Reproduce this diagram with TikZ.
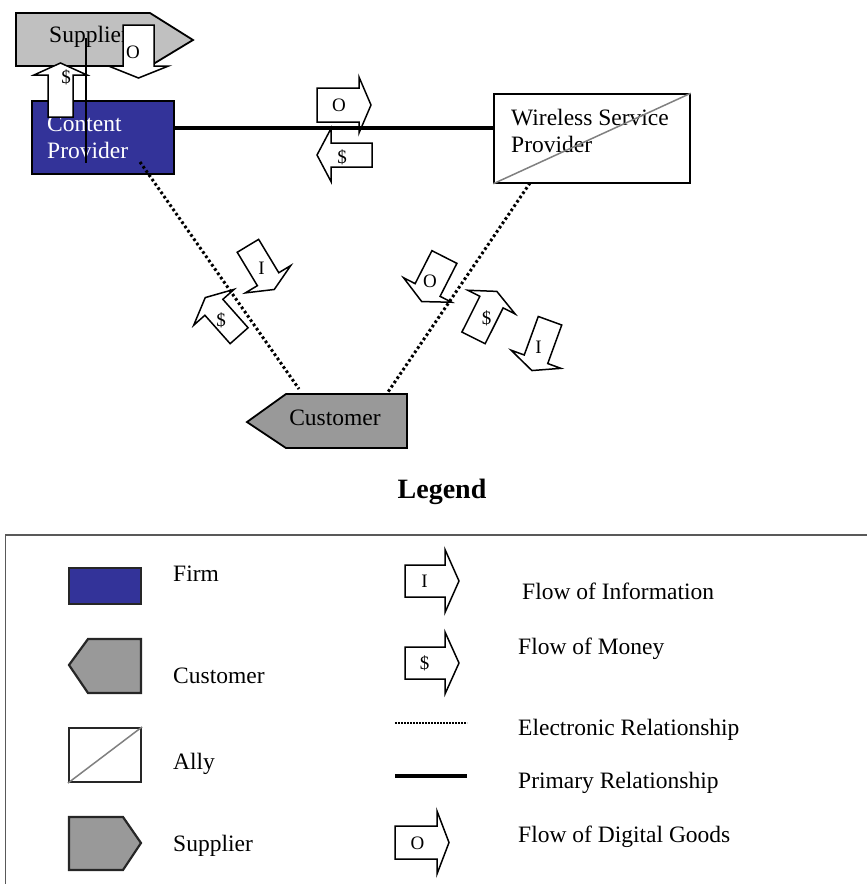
\documentclass[tikz,border=0pt]{standalone}
\usepackage{fontspec}
\setmainfont{Liberation Serif}
\definecolor{firmblue}{RGB}{51,51,153}
\definecolor{suplight}{RGB}{192,192,192}
\definecolor{midgray}{RGB}{153,153,153}
\definecolor{allyline}{RGB}{128,128,128}
% #1 x, #2 y, #3 angle, #4 box length, #5 box width, #6 head length, #7 head span
\newcommand\flowarrow[7]{%
  \begin{scope}[shift={(#1,#2)}, rotate=#3]
    \draw[flowline] ({-(#4)/2},{-(#5)/2}) -- ({(#4)/2},{-(#5)/2}) -- ({(#4)/2},{-(#7)/2})
      -- ({(#4)/2+(#6)},0) -- ({(#4)/2},{(#7)/2}) -- ({(#4)/2},{(#5)/2}) -- ({-(#4)/2},{(#5)/2}) -- cycle;
  \end{scope}}
\begin{document}
\begin{tikzpicture}[x=1pt,y=-1pt,
  txt/.style={font=\fontsize{23.5}{27}\selectfont, inner sep=0, anchor=base west},
  flowline/.style={draw=black, fill=white, line width=1.5pt, line join=miter},
  flowlabel/.style={font=\fontsize{19}{22}\selectfont, inner sep=0},
  primary/.style={line width=3.8pt},
  elec/.style={line width=3pt, dash pattern=on 2.6pt off 2.6pt},
  shapeline/.style={draw=black, line width=1.8pt},
  legshape/.style={draw=black!85, line width=2.2pt},
  allydiag/.style={draw=allyline, line width=1.5pt}]
\useasboundingbox (0,0) rectangle (867,884);

% ---------- main diagram ----------
\node[shapeline, fill=firmblue, minimum width=142pt, minimum height=73pt, inner sep=0] (cp) at (103,137.5) {};
\node[txt, text=white] (cpt1) at (47,131) {Content};
\node[txt, text=white] (cpt2) at (47,158) {Provider};

\draw[shapeline, fill=suplight] (16,13) -- (150,13) -- (193,40) -- (150,66) -- (16,66) -- cycle;
\node[txt] (supt) at (49,42) {Supplier};

\node[draw=black, line width=1.5pt, fill=white, minimum width=196pt, minimum height=89pt, inner sep=0] (wsp) at (592,138.5) {};
\node[txt] (wspt1) at (511,125) {Wireless Service};
\node[txt] (wspt2) at (511,152) {Provider};
\draw[allydiag] (wsp.south west) -- (wsp.north east);

\draw[shapeline, fill=midgray] (247,422) -- (286,394) -- (407,394) -- (407,448) -- (286,448) -- cycle;
\node[font=\fontsize{23.5}{27}\selectfont, inner sep=0] (custt) at (335,418) {Customer};

% flow arrows
\flowarrow{138.5}{45.5}{-90}{41}{31}{12}{60}
\node[flowlabel] (lsupO) at (133,52) {O};
\flowarrow{60.5}{96}{90}{42}{25}{12}{53}
\node[flowlabel] (lsupD) at (66,77) {\$};
\flowarrow{338}{105}{0}{42}{34}{12}{56}
\node[flowlabel] (lmidO) at (339,105) {O};
\flowarrow{351.5}{155}{180}{41}{24}{14}{53}
\node[flowlabel] (lmidD) at (342,157) {\$};
\flowarrow{258}{262.5}{-58.9}{39}{25}{12}{53}
\node[flowlabel] (lleftI) at (261.5,268) {I};
\flowarrow{226.5}{321.5}{131.6}{38}{24}{13}{54}
\node[flowlabel] (lleftD) at (221,320) {\$};
\flowarrow{436}{273.5}{-117}{37}{28}{13}{54}
\node[flowlabel] (lrightO) at (430,281) {O};
\flowarrow{482.5}{320}{63.4}{40}{26}{12}{53}
\node[flowlabel] (lrightD) at (486.5,318) {\$};
\flowarrow{543}{340}{-110}{41}{25}{12}{53}
\node[flowlabel] (lrightI) at (538.5,347) {I};

% connectors
\coordinate (cpdot) at (140,162);
\coordinate (custL) at (299,389);
\coordinate (custR) at (388,392);
\coordinate (wspdot) at (530,183);
\coordinate (supline) at (86,38);
\coordinate (cpline) at (86,163);
\draw[primary] ([yshift=9.5pt]cp.east) -- ([yshift=10.5pt]wsp.west);
\draw[elec] (cpdot) -- (custL);
\draw[elec] (wspdot) -- (custR);
\draw[line width=1.5pt] (supline) -- (cpline);

% ---------- legend ----------
\node[font=\fontsize{28}{32}\selectfont\bfseries, inner sep=0] (legtitle) at (442,492) {Legend};
\draw[draw=black!65, line width=1.3pt] (867,535) -- (5.5,535) -- (5.5,884);

\node[legshape, fill=firmblue, minimum width=72pt, minimum height=36pt, inner sep=0] (legfirm) at (105,586) {};
\draw[legshape, fill=midgray] (69,665) -- (88,639) -- (141,639) -- (141,693) -- (88,693) -- cycle;
\node[legshape, fill=white, minimum width=72pt, minimum height=54pt, inner sep=0] (legally) at (105,755) {};
\draw[allydiag] (legally.south west) -- (legally.north east);
\draw[legshape, fill=midgray] (69,817) -- (123,817) -- (141,843) -- (123,870) -- (69,870) -- cycle;

\node[txt] (tfirm) at (173,581) {Firm};
\node[txt] (tcust) at (173,683) {Customer};
\node[txt] (tally) at (173,769) {Ally};
\node[txt] (tsup) at (173,851) {Supplier};

\flowarrow{425}{581}{0}{40}{32}{14}{63}
\node[flowlabel] (legI) at (424.5,581.5) {I};
\flowarrow{425}{663}{0}{40}{32}{14}{62}
\node[flowlabel] (legD) at (424.5,663) {\$};
\coordinate (ledA) at (395,723);
\coordinate (ledB) at (467,723);
\draw[line width=2.5pt, dash pattern=on 1.6pt off 1.4pt] (ledA) -- (ledB);
\coordinate (lprA) at (395,776);
\coordinate (lprB) at (467,776);
\draw[line width=4.5pt] (lprA) -- (lprB);
\flowarrow{416}{842.5}{0}{42}{33}{12}{63}
\node[flowlabel] (legO) at (417.5,843) {O};

\node[txt] (tinfo) at (522,599) {Flow of Information};
\node[txt] (tmoney) at (518,654) {Flow of Money};
\node[txt] (telec) at (518,735) {Electronic Relationship};
\node[txt] (tprim) at (518,788) {Primary Relationship};
\node[txt] (tdig) at (518,842) {Flow of Digital Goods};
\end{tikzpicture}
\end{document}
